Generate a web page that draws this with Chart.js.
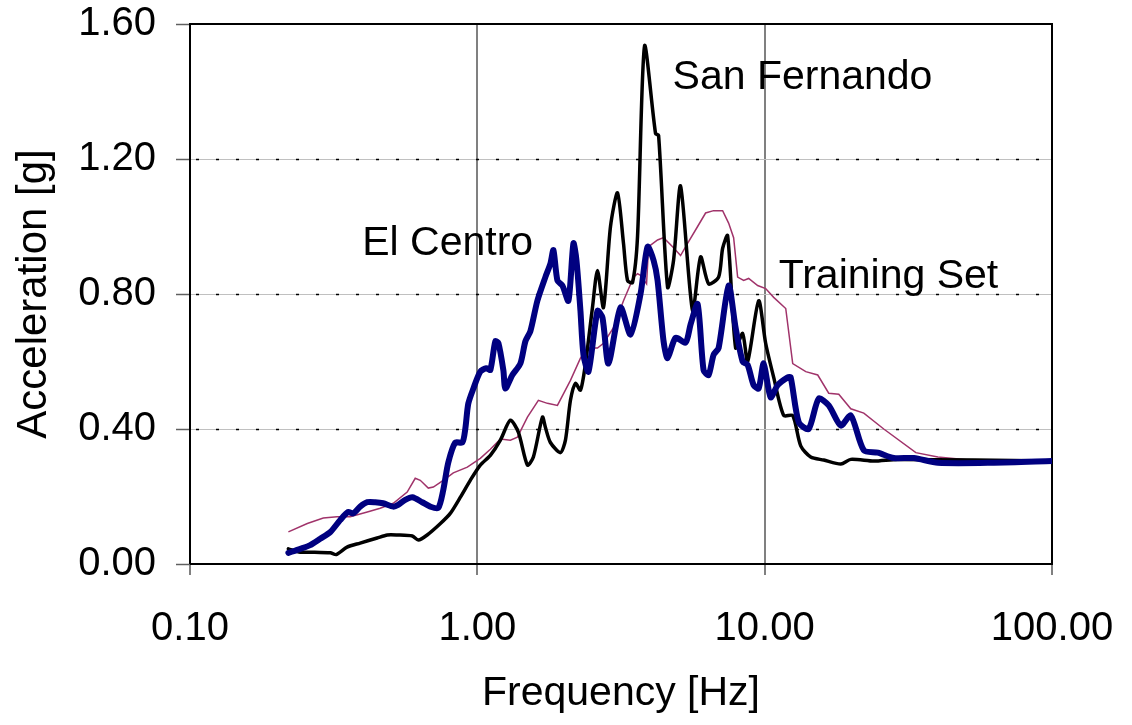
<!DOCTYPE html>
<html>
<head>
<meta charset="utf-8">
<script src="https://cdn.jsdelivr.net/npm/chart.js@4/dist/chart.umd.min.js"></script>
<style>
  html, body { margin: 0; padding: 0; background: #ffffff; }
  #wrap { width: 1132px; height: 725px; }
</style>
</head>
<body>
<div id="wrap"><canvas id="c" width="1132" height="725"></canvas></div>
<script>
// Response spectra: frequency [Hz] vs spectral acceleration [g]
const elCentroFreq = [0.220, 0.242, 0.262, 0.284, 0.308, 0.333, 0.355, 0.370, 0.391, 0.414, 0.441, 0.470, 0.510, 0.530, 0.561, 0.594, 0.643, 0.686, 0.731, 0.761, 0.792, 0.838, 0.887, 0.908, 0.930, 0.969, 1.024, 1.075, 1.110, 1.155, 1.184, 1.232, 1.252, 1.324, 1.412, 1.470, 1.530, 1.618, 1.725, 1.796, 1.840, 1.900, 1.978, 2.075, 2.160, 2.213, 2.285, 2.341, 2.437, 2.619, 2.726, 2.860, 3.150, 3.413, 3.698, 3.912, 4.105, 4.239, 4.448, 4.593, 4.897, 5.306, 5.523, 5.843, 6.130, 6.381, 6.642, 6.914, 7.491, 7.923, 8.381, 8.724, 9.154, 9.529, 9.920, 10.49, 11.10, 12.03, 12.32, 13.14, 14.23, 15.42, 16.71, 18.41, 19.94, 22.13, 24.76, 28.15, 33.05, 40.07, 62.8, 100];
const elCentroAcc = [0.033, 0.045, 0.056, 0.075, 0.095, 0.130, 0.154, 0.150, 0.170, 0.183, 0.183, 0.180, 0.170, 0.175, 0.190, 0.198, 0.183, 0.170, 0.166, 0.219, 0.300, 0.360, 0.360, 0.400, 0.475, 0.520, 0.570, 0.580, 0.575, 0.660, 0.655, 0.574, 0.520, 0.560, 0.594, 0.660, 0.690, 0.780, 0.850, 0.890, 0.930, 0.840, 0.825, 0.780, 0.950, 0.900, 0.750, 0.620, 0.570, 0.750, 0.730, 0.594, 0.760, 0.680, 0.800, 0.940, 0.900, 0.840, 0.660, 0.610, 0.670, 0.656, 0.710, 0.770, 0.574, 0.560, 0.620, 0.640, 0.825, 0.700, 0.600, 0.590, 0.530, 0.520, 0.594, 0.494, 0.530, 0.553, 0.553, 0.420, 0.400, 0.490, 0.470, 0.410, 0.440, 0.337, 0.330, 0.314, 0.314, 0.300, 0.300, 0.305];

const sanFernandoFreq = [0.220, 0.242, 0.268, 0.308, 0.323, 0.352, 0.391, 0.448, 0.486, 0.526, 0.594, 0.623, 0.669, 0.744, 0.805, 0.873, 0.945, 1.024, 1.110, 1.203, 1.303, 1.390, 1.494, 1.567, 1.685, 1.725, 1.796, 1.946, 2.026, 2.109, 2.195, 2.285, 2.379, 2.516, 2.619, 2.748, 2.907, 3.075, 3.226, 3.332, 3.468, 3.610, 3.819, 4.172, 4.274, 4.593, 4.819, 5.097, 5.613, 5.984, 6.381, 6.914, 7.140, 7.432, 7.923, 8.381, 8.724, 9.529, 10.08, 10.75, 11.65, 12.52, 13.35, 14.46, 16.05, 18.41, 19.94, 23.98, 29.07, 100];
const sanFernandoAcc = [0.045, 0.035, 0.035, 0.033, 0.028, 0.050, 0.062, 0.077, 0.086, 0.086, 0.083, 0.071, 0.086, 0.120, 0.150, 0.198, 0.248, 0.293, 0.322, 0.367, 0.426, 0.390, 0.293, 0.317, 0.435, 0.405, 0.360, 0.330, 0.367, 0.485, 0.535, 0.515, 0.594, 0.760, 0.870, 0.760, 1.000, 1.100, 0.950, 0.840, 0.834, 0.970, 1.535, 1.275, 1.270, 0.820, 0.900, 1.120, 0.750, 0.910, 0.830, 0.850, 0.935, 0.973, 0.640, 0.683, 0.600, 0.780, 0.654, 0.553, 0.440, 0.440, 0.350, 0.317, 0.308, 0.296, 0.310, 0.305, 0.310, 0.305];

const trainingFreq = [0.220, 0.256, 0.291, 0.325, 0.361, 0.414, 0.459, 0.510, 0.570, 0.608, 0.633, 0.675, 0.703, 0.761, 0.825, 0.923, 1.024, 1.110, 1.203, 1.303, 1.379, 1.494, 1.631, 1.754, 1.900, 2.109, 2.285, 2.417, 2.619, 2.748, 2.978, 3.226, 3.496, 3.610, 3.699, 3.881, 3.944, 4.239, 4.448, 4.781, 5.097, 5.391, 5.843, 6.229, 6.642, 7.140, 7.491, 7.798, 8.053, 8.450, 8.796, 9.454, 10.08, 10.75, 11.84, 12.52, 13.90, 15.30, 16.71, 18.11, 19.94, 22.13, 25.97, 33.58, 40.07, 49.36, 62.8, 100];
const trainingAcc = [0.095, 0.120, 0.136, 0.140, 0.140, 0.154, 0.165, 0.180, 0.213, 0.254, 0.248, 0.225, 0.228, 0.248, 0.270, 0.287, 0.313, 0.340, 0.370, 0.367, 0.376, 0.435, 0.485, 0.476, 0.470, 0.544, 0.610, 0.640, 0.640, 0.654, 0.700, 0.780, 0.850, 0.860, 0.855, 0.830, 0.940, 0.960, 0.967, 0.940, 0.914, 0.950, 1.000, 1.040, 1.047, 1.047, 1.010, 0.967, 0.850, 0.840, 0.846, 0.825, 0.816, 0.790, 0.757, 0.594, 0.570, 0.560, 0.506, 0.503, 0.460, 0.447, 0.400, 0.330, 0.317, 0.310, 0.300, 0.305];

const freqTicks = [0.1, 1, 10, 100];
const accTicks = [0, 0.4, 0.8, 1.2, 1.6];

// In-plot series labels, anchored in data space (left edge, vertical middle)
const seriesLabels = [
  { text: 'San Fernando', freq: 4.78, acc: 1.44 },
  { text: 'El Centro', freq: 0.3975, acc: 0.95 },
  { text: 'Training Set', freq: 11.19, acc: 0.852 }
];

const FONT = '"Liberation Sans", Arial, Helvetica, sans-serif';

function pts(xs, ys) { return xs.map((x, i) => ({ x: x, y: ys[i] })); }

const plotFrame = {
  id: 'plotFrame',
  beforeDatasetsDraw(chart) {
    const { ctx, chartArea: a, scales } = chart;
    ctx.save();
    // dotted overlay on the horizontal grid lines
    ctx.strokeStyle = '#000000';
    ctx.lineWidth = 1.5;
    ctx.setLineDash([3, 17]);
    [0.4, 0.8, 1.2].forEach(v => {
      const y = Math.round(scales.y.getPixelForValue(v)) + 0.5;
      ctx.beginPath();
      ctx.moveTo(a.left + 6, y);
      ctx.lineTo(a.right, y);
      ctx.stroke();
    });
    ctx.setLineDash([]);
    // outer box
    ctx.lineWidth = 2;
    ctx.strokeStyle = '#000000';
    ctx.beginPath();
    ctx.moveTo(a.left, a.bottom);
    ctx.lineTo(a.left, a.top);
    ctx.lineTo(a.right, a.top);
    ctx.lineTo(a.right, a.bottom);
    ctx.lineTo(a.left, a.bottom);
    ctx.stroke();
    ctx.restore();
  },
  afterDatasetsDraw(chart) {
    const { ctx, scales } = chart;
    ctx.save();
    ctx.fillStyle = '#000000';
    ctx.font = '41px ' + FONT;
    ctx.textAlign = 'left';
    ctx.textBaseline = 'middle';
    seriesLabels.forEach(l => {
      ctx.fillText(l.text, scales.x.getPixelForValue(l.freq), scales.y.getPixelForValue(l.acc));
    });
    ctx.restore();
  }
};

new Chart(document.getElementById('c'), {
  type: 'line',
  data: {
    datasets: [
      {
        label: 'El Centro',
        data: pts(elCentroFreq, elCentroAcc),
        borderColor: '#000080',
        borderWidth: 6,
        tension: 0.25,
        pointRadius: 0,
        borderJoinStyle: 'round',
        borderCapStyle: 'round',
        order: 1
      },
      {
        label: 'San Fernando',
        data: pts(sanFernandoFreq, sanFernandoAcc),
        borderColor: '#000000',
        borderWidth: 3.5,
        tension: 0.25,
        pointRadius: 0,
        borderJoinStyle: 'round',
        borderCapStyle: 'round',
        order: 2
      },
      {
        label: 'Training Set',
        data: pts(trainingFreq, trainingAcc),
        borderColor: '#a0336a',
        borderWidth: 1.5,
        tension: 0,
        pointRadius: 0,
        order: 3
      }
    ]
  },
  options: {
    responsive: false,
    devicePixelRatio: 1,
    animation: false,
    events: [],
    layout: { padding: { top: 24, right: 80, left: 0, bottom: 0 } },
    plugins: { legend: { display: false }, tooltip: { enabled: false } },
    scales: {
      x: {
        type: 'logarithmic',
        min: 0.1,
        max: 100,
        afterBuildTicks(scale) { scale.ticks = freqTicks.map(v => ({ value: v })); },
        afterFit(scale) {
          scale.height = 161;
          scale.paddingLeft = 0;
          scale.paddingRight = 0;
        },
        border: { display: false },
        grid: { color: '#808080', lineWidth: 2, tickLength: 11, drawTicks: true },
        ticks: {
          color: '#000000',
          font: { family: FONT, size: 40 },
          padding: 30,
          maxRotation: 0,
          autoSkip: false,
          callback: v => Number(v).toFixed(2)
        },
        title: {
          display: true,
          text: 'Frequency [Hz]',
          color: '#000000',
          font: { family: FONT, size: 41 },
          padding: { top: 0, bottom: 7 }
        }
      },
      y: {
        min: 0,
        max: 1.6,
        afterBuildTicks(scale) { scale.ticks = accTicks.map(v => ({ value: v })); },
        afterFit(scale) {
          scale.width = 190;
          scale.paddingTop = 0;
          scale.paddingBottom = 0;
        },
        border: { display: false },
        grid: { color: '#c0c0c0', lineWidth: 1, tickLength: 14, tickColor: '#606060', tickWidth: 1.5 },
        ticks: {
          color: '#000000',
          font: { family: FONT, size: 40 },
          padding: 20,
          callback: v => Number(v).toFixed(2)
        },
        title: {
          display: true,
          text: 'Acceleration [g]',
          color: '#000000',
          font: { family: FONT, size: 42 },
          padding: { top: 9, bottom: 0 }
        }
      }
    }
  },
  plugins: [plotFrame]
});
</script>
</body>
</html>
